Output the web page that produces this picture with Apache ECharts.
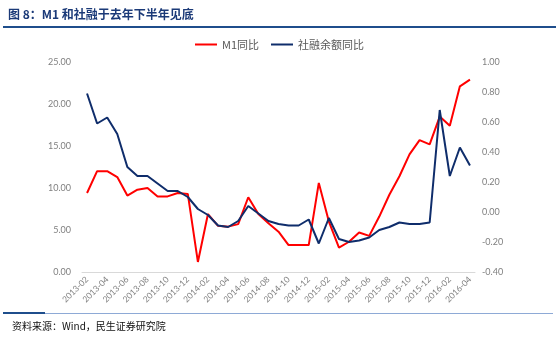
<!DOCTYPE html>
<html>
<head>
<meta charset="utf-8">
<style>
  html, body { margin: 0; padding: 0; background: #ffffff; }
  #chart { width: 559px; height: 339px; }
</style>
<script src="https://cdn.jsdelivr.net/npm/echarts@6/dist/echarts.min.js"></script>
</head>
<body>
<div id="chart"></div>
<script>
// Monthly categories, 2013-02 .. 2016-04
const months = [
  '2013-02','2013-03','2013-04','2013-05','2013-06','2013-07','2013-08','2013-09','2013-10','2013-11','2013-12',
  '2014-01','2014-02','2014-03','2014-04','2014-05','2014-06','2014-07','2014-08','2014-09','2014-10','2014-11','2014-12',
  '2015-01','2015-02','2015-03','2015-04','2015-05','2015-06','2015-07','2015-08','2015-09','2015-10','2015-11','2015-12',
  '2016-01','2016-02','2016-03','2016-04'
];

// M1 year-on-year (%), left axis
const m1Yoy = [
  9.4, 12.0, 12.0, 11.3, 9.1, 9.8, 10.0, 9.0, 9.0, 9.4, 9.3,
  1.2, 6.9, 5.5, 5.4, 5.7, 8.9, 6.9, 5.8, 4.8, 3.2, 3.2, 3.2,
  10.6, 6.0, 2.9, 3.6, 4.7, 4.3, 6.6, 9.2, 11.4, 14.0, 15.7, 15.2,
  18.5, 17.4, 22.1, 22.9
];

// Outstanding social financing year-on-year, right axis
const tsfYoy = [
  0.79, 0.59, 0.63, 0.52, 0.30, 0.24, 0.24, 0.19, 0.14, 0.14, 0.10,
  0.02, -0.02, -0.09, -0.10, -0.06, 0.04, -0.01, -0.06, -0.08, -0.09, -0.09, -0.05,
  -0.21, -0.04, -0.18, -0.20, -0.19, -0.17, -0.12, -0.10, -0.07, -0.08, -0.08, -0.07,
  0.68, 0.24, 0.43, 0.31
];

const leftTicks = { min: 0, max: 25, step: 5 };
const rightTicks = { min: -0.4, max: 1.0, step: 0.2 };

const titleText = '图 8：M1 和社融于去年下半年见底';
const sourceText = '资料来源：Wind，民生证券研究院';

const chart = echarts.init(document.getElementById('chart'), null, { renderer: 'canvas' });
const labelFont = 'Lato, "Liberation Sans", sans-serif';

chart.setOption({
  animation: false,
  backgroundColor: '#ffffff',
  graphic: [
    {
      type: 'text', left: 8, top: 8,
      style: { text: titleText, fill: '#1b3a78', font: 'bold 12px "Noto Sans CJK SC", sans-serif' }
    },
    { type: 'rect', shape: { x: 3, y: 26, width: 553, height: 2 }, style: { fill: '#1f4e8c' } },
    { type: 'rect', shape: { x: 3, y: 313, width: 550, height: 1 }, style: { fill: '#8eaad6' } },
    { type: 'rect', shape: { x: 3, y: 312, width: 42, height: 2 }, style: { fill: '#1f4e8c' } },
    {
      type: 'text', left: 12, top: 321,
      style: { text: sourceText, fill: '#111111', font: '10px "Noto Sans CJK SC", sans-serif' }
    }
  ],
  legend: {
    top: 34, left: 'center',
    icon: 'rect', itemWidth: 22, itemHeight: 2, itemGap: 12,
    textStyle: { color: '#595959', fontSize: 11, fontFamily: '"Noto Sans CJK SC", sans-serif' },
    data: ['M1同比', '社融余额同比']
  },
  grid: { left: 82, right: 84, top: 62, bottom: 67, containLabel: false },
  xAxis: {
    type: 'category',
    data: months,
    boundaryGap: true,
    axisLine: { lineStyle: { color: '#d9d9d9' } },
    axisTick: { interval: 1, length: 4, lineStyle: { color: '#d9d9d9' } },
    axisLabel: { interval: 1, rotate: 45, color: '#7f7f7f', fontSize: 8.5, fontFamily: labelFont, margin: 6 }
  },
  yAxis: [
    {
      type: 'value',
      min: leftTicks.min, max: leftTicks.max, interval: leftTicks.step,
      axisLine: { show: false }, axisTick: { show: false }, splitLine: { show: false },
      axisLabel: { color: '#7f7f7f', fontSize: 9, fontFamily: labelFont, margin: 11,
        formatter: v => v.toFixed(2) }
    },
    {
      type: 'value',
      min: rightTicks.min, max: rightTicks.max, interval: rightTicks.step,
      axisLine: { show: false }, axisTick: { show: false }, splitLine: { show: false },
      axisLabel: { color: '#7f7f7f', fontSize: 9, fontFamily: labelFont, margin: 7,
        formatter: v => v.toFixed(2) }
    }
  ],
  series: [
    {
      name: 'M1同比', type: 'line', yAxisIndex: 0, data: m1Yoy,
      showSymbol: false, symbol: 'none',
      lineStyle: { color: '#ff0000', width: 2 }, itemStyle: { color: '#ff0000' }
    },
    {
      name: '社融余额同比', type: 'line', yAxisIndex: 1, data: tsfYoy,
      showSymbol: false, symbol: 'none',
      lineStyle: { color: '#0f2d6b', width: 2 }, itemStyle: { color: '#0f2d6b' }
    }
  ]
});
</script>
</body>
</html>
